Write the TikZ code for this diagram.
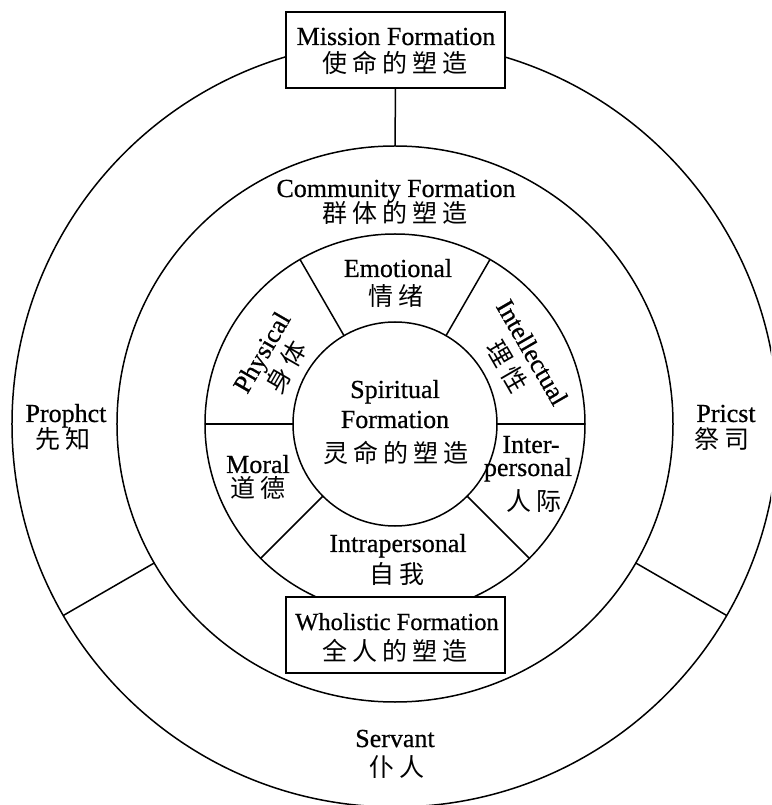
\documentclass[tikz,border=0pt]{standalone}
\usepackage{fontspec}
\setmainfont[FakeBold=0.6]{Liberation Serif}
\newfontfamily\cjk{Noto Sans CJK SC}
\newcommand\zs{\hspace{5pt}}
\tikzset{
  en/.style={font=\fontsize{26}{27}\selectfont, inner sep=0pt, anchor=base},
  zh/.style={font=\cjk\fontsize{25}{27}\selectfont, inner sep=0pt, anchor=base},
  rot/.style={font=\fontsize{26}{29}\selectfont, inner sep=0pt, align=center},
  ringc/.style={circle, draw, line width=1.5pt, inner sep=0pt, outer sep=0pt},
  framebox/.style={draw, fill=white, line width=1.5pt, minimum width=219pt, minimum height=76pt, inner sep=0pt},
  divider/.style={line width=1.5pt},
}
\begin{document}
\begin{tikzpicture}[x=1pt,y=1pt]
\useasboundingbox (-395,-381) rectangle (376,424);
\fill[white] (-395,-381) rectangle (376,424);
\clip (-395,-381) rectangle (376,424);
% circles
\node[ringc, minimum size=766pt] (outer) at (0,0) {};
\node[ringc, minimum size=556pt] (comm) at (0,0) {};
\node[ringc, minimum size=380pt] (six) at (0,0) {};
\node[ringc, minimum size=204pt] (spirit) at (0,0) {};
% dividers
\foreach \a in {0,60,120,180,225,315} \draw[divider] (spirit.\a) -- (six.\a);
\foreach \a in {210,330} \draw[divider] (comm.\a) -- (outer.\a);
% boxes
\node[framebox] (mission) at (0.5,374) {};
\node[framebox] (whole) at (0.5,-211) {};
\draw[divider] (mission.south) -- (comm.north);
% texts
\node[en] (missionE) at (1,379) {Mission Formation};
\node[zh] (missionC) at (0,351) {使\zs 命\zs 的\zs 塑\zs 造};
\node[en] (commE) at (1,227) {Community Formation};
\node[zh] (commC) at (0,201) {群\zs 体\zs 的\zs 塑\zs 造};
\node[en] (emoE) at (3,147) {Emotional};
\node[zh] (emoC) at (1,118) {情\zs 绪};
\node[en] (spE1) at (0,26) {Spiritual};
\node[en] (spE2) at (0,-4) {Formation};
\node[zh] (spC) at (1,-39) {灵\zs 命\zs 的\zs 塑\zs 造};
\node[en] (moralE) at (-137,-49) {Moral};
\node[zh] (moralC) at (-137,-74) {道\zs 德};
\node[en] (interE1) at (136,-29) {Inter-};
\node[en] (interE2) at (133,-52) {personal};
\node[zh] (interC) at (139,-87) {人\zs 际};
\node[en] (intraE) at (3,-128) {Intrapersonal};
\node[zh] (intraC) at (2,-159) {自\zs 我};
\node[en, font=\fontsize{24.5}{27}\selectfont] (wholeE) at (2,-206) {Wholistic Formation};
\node[zh] (wholeC) at (0,-236) {全\zs 人\zs 的\zs 塑\zs 造};
\node[en] (prophE) at (-329,2) {Prophct};
\node[zh] (prophC) at (-332,-25) {先\zs 知};
\node[en] (priestE) at (331,2) {Pricst};
\node[zh] (priestC) at (327,-25) {祭\zs 司};
\node[en] (servE) at (0,-323) {Servant};
\node[zh] (servC) at (2,-352) {仆\zs 人};
\node[rot, rotate=60] (phys) at (-120,64) {Physical\\{\cjk\fontsize{25}{29}\selectfont 身\zs 体}};
\node[rot, rotate=-60] (intel) at (124,64) {Intellectual\\{\cjk\fontsize{25}{29}\selectfont 理\zs 性}};
\end{tikzpicture}
\end{document}
